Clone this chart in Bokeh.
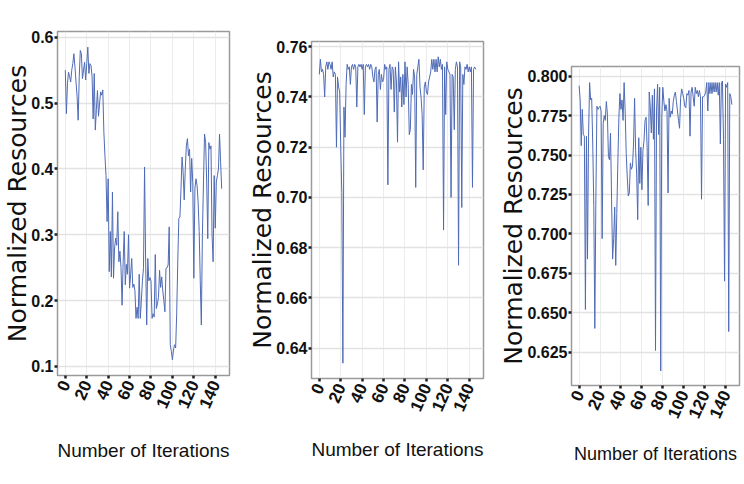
from bokeh.plotting import figure
from bokeh.models import Range1d, FixedTicker
from bokeh.layouts import row
from bokeh.embed import file_html
from bokeh.resources import INLINE

# ---------------- data ----------------
iterations = list(range(147))

res_a = [0.550, 0.484, 0.530, 0.547, 0.540, 0.532, 0.550, 0.560, 0.575, 0.555,
         0.532, 0.510, 0.474, 0.540, 0.580, 0.575, 0.537, 0.550, 0.562, 0.535,
         0.560, 0.585, 0.545, 0.560, 0.557, 0.540, 0.476, 0.545, 0.459, 0.490,
         0.519, 0.480, 0.500, 0.517, 0.512, 0.520, 0.456, 0.420, 0.390, 0.320,
         0.385, 0.244, 0.305, 0.236, 0.365, 0.234, 0.280, 0.295, 0.284, 0.335,
         0.259, 0.275, 0.250, 0.193, 0.259, 0.305, 0.224, 0.255, 0.240, 0.300,
         0.219, 0.240, 0.264, 0.220, 0.225, 0.215, 0.173, 0.190, 0.173, 0.240,
         0.173, 0.200, 0.230, 0.250, 0.403, 0.260, 0.163, 0.264, 0.230, 0.235,
         0.230, 0.173, 0.180, 0.175, 0.270, 0.188, 0.195, 0.205, 0.246, 0.220,
         0.236, 0.215, 0.200, 0.183, 0.249, 0.250, 0.254, 0.312, 0.133, 0.123,
         0.110, 0.125, 0.133, 0.128, 0.180, 0.260, 0.325, 0.327, 0.370, 0.418,
         0.395, 0.353, 0.400, 0.435, 0.446, 0.420, 0.430, 0.365, 0.416, 0.380,
         0.234, 0.370, 0.385, 0.375, 0.350, 0.305, 0.230, 0.163, 0.300, 0.380,
         0.453, 0.440, 0.380, 0.294, 0.440, 0.430, 0.435, 0.300, 0.259, 0.390,
         0.310, 0.380, 0.390, 0.400, 0.453, 0.410, 0.370]

res_b = [0.749, 0.755, 0.750, 0.751, 0.749, 0.740, 0.752, 0.754, 0.751, 0.754,
         0.753, 0.751, 0.754, 0.748, 0.750, 0.749, 0.720, 0.748, 0.744, 0.742,
         0.720, 0.702, 0.634, 0.736, 0.724, 0.745, 0.753, 0.751, 0.752, 0.745,
         0.752, 0.753, 0.751, 0.753, 0.752, 0.736, 0.752, 0.753, 0.752, 0.753,
         0.751, 0.753, 0.733, 0.752, 0.753, 0.752, 0.753, 0.751, 0.753, 0.752,
         0.748, 0.746, 0.751, 0.752, 0.730, 0.749, 0.751, 0.743, 0.749, 0.746,
         0.747, 0.753, 0.751, 0.752, 0.705, 0.751, 0.753, 0.743, 0.752, 0.751,
         0.734, 0.752, 0.746, 0.722, 0.754, 0.742, 0.748, 0.736, 0.749, 0.737,
         0.754, 0.740, 0.752, 0.745, 0.725, 0.727, 0.745, 0.741, 0.751, 0.748,
         0.704, 0.749, 0.752, 0.755, 0.744, 0.740, 0.733, 0.711, 0.744, 0.746,
         0.742, 0.741, 0.746, 0.748, 0.750, 0.755, 0.751, 0.755, 0.750, 0.755,
         0.750, 0.756, 0.752, 0.755, 0.751, 0.753, 0.687, 0.752, 0.733, 0.754,
         0.751, 0.750, 0.749, 0.700, 0.749, 0.748, 0.727, 0.751, 0.754, 0.752,
         0.673, 0.754, 0.752, 0.696, 0.749, 0.745, 0.752, 0.751, 0.753, 0.750,
         0.752, 0.750, 0.752, 0.704, 0.751, 0.752, 0.751]

res_c = [0.794, 0.785, 0.756, 0.779, 0.763, 0.762, 0.652, 0.762, 0.684, 0.762,
         0.796, 0.785, 0.786, 0.757, 0.718, 0.640, 0.722, 0.781, 0.779, 0.780,
         0.781, 0.778, 0.697, 0.770, 0.775, 0.772, 0.784, 0.776, 0.749, 0.747,
         0.764, 0.722, 0.684, 0.697, 0.717, 0.680, 0.713, 0.745, 0.774, 0.789,
         0.779, 0.785, 0.772, 0.796, 0.778, 0.751, 0.736, 0.724, 0.726, 0.745,
         0.741, 0.743, 0.757, 0.786, 0.753, 0.738, 0.709, 0.761, 0.732, 0.755,
         0.728, 0.753, 0.759, 0.772, 0.774, 0.755, 0.718, 0.790, 0.781, 0.764,
         0.788, 0.760, 0.792, 0.626, 0.778, 0.795, 0.763, 0.793, 0.613, 0.774,
         0.793, 0.784, 0.778, 0.782, 0.778, 0.726, 0.786, 0.774, 0.778, 0.776,
         0.784, 0.788, 0.790, 0.784, 0.778, 0.772, 0.767, 0.786, 0.792, 0.789,
         0.786, 0.781, 0.780, 0.789, 0.788, 0.791, 0.762, 0.790, 0.793, 0.787,
         0.781, 0.793, 0.789, 0.791, 0.787, 0.791, 0.787, 0.722, 0.787, 0.787,
         0.788, 0.790, 0.796, 0.778, 0.796, 0.789, 0.796, 0.789, 0.796, 0.790,
         0.796, 0.790, 0.796, 0.788, 0.796, 0.757, 0.796, 0.797, 0.760, 0.670,
         0.795, 0.793, 0.796, 0.638, 0.789, 0.787, 0.782]

x_ticks = [0, 20, 40, 60, 80, 100, 120, 140]
x_tick_labels = ["0", "20", "40", "60", "80", "100", "120", "140"]

y_ticks_a = [0.1, 0.2, 0.3, 0.4, 0.5, 0.6]
y_tick_labels_a = ["0.1", "0.2", "0.3", "0.4", "0.5", "0.6"]
y_ticks_b = [0.64, 0.66, 0.68, 0.70, 0.72, 0.74, 0.76]
y_tick_labels_b = ["0.64", "0.66", "0.68", "0.70", "0.72", "0.74", "0.76"]
y_ticks_c = [0.625, 0.650, 0.675, 0.700, 0.725, 0.750, 0.775, 0.800]
y_tick_labels_c = ["0.625", "0.650", "0.675", "0.700", "0.725", "0.750", "0.775", "0.800"]

x_label = "Number of Iterations"
y_label = "Normalized Resources"

# ---------------- styling ----------------
TICK_FONT = "Liberation Sans"
LINE_COLOR = "#4f6bb6"


def padded(vals, frac=0.05):
    lo, hi = min(vals), max(vals)
    pad = (hi - lo) * frac
    return Range1d(lo - pad, hi + pad)


def make_panel(values, yticks, ylabels, width, height, b_left, b_right, b_top, b_bottom,
               xlab_size, xlab_standoff):
    p = figure(width=width, height=height, output_backend="svg", toolbar_location=None,
               x_range=padded(iterations), y_range=padded(values),
               min_border_left=b_left, min_border_right=b_right,
               min_border_top=b_top, min_border_bottom=b_bottom,
               frame_align=False)
    p.line(iterations, values, line_color=LINE_COLOR, line_width=1)

    p.background_fill_color = "white"
    p.border_fill_color = "white"
    p.outline_line_color = "#9a9a9a"
    p.outline_line_width = 1.5

    p.xaxis.ticker = FixedTicker(ticks=x_ticks)
    p.xaxis.major_label_overrides = {t: l for t, l in zip(x_ticks, x_tick_labels)}
    p.yaxis.ticker = FixedTicker(ticks=yticks)
    p.yaxis.major_label_overrides = {t: l for t, l in zip(yticks, ylabels)}
    p.xgrid.ticker = FixedTicker(ticks=x_ticks)
    p.ygrid.ticker = FixedTicker(ticks=yticks)
    p.xgrid.grid_line_color = "#ececec"
    p.ygrid.grid_line_color = "#e2e2e2"
    p.ygrid.grid_line_width = 1.3

    for ax in (p.xaxis, p.yaxis):
        ax.axis_line_color = None
        ax.minor_tick_line_color = None
        ax.major_tick_in = 0
        ax.major_tick_out = 3
        ax.major_tick_line_width = 2.5
        ax.major_tick_line_color = "#222222"
        ax.major_label_text_font = TICK_FONT
        ax.major_label_text_font_style = "bold"
        ax.major_label_text_color = "#111111"
        ax.major_label_standoff = 1

    p.xaxis.major_label_text_font_size = "17px"
    p.yaxis.major_label_text_font_size = "16px"

    p.xaxis.major_label_orientation = 1.15
    p.xaxis.major_label_standoff = 3
    p.xaxis.axis_label = x_label
    p.xaxis.axis_label_text_font = "Liberation Sans"
    p.xaxis.axis_label_text_font_style = "normal"
    p.xaxis.axis_label_text_font_size = xlab_size
    p.xaxis.axis_label_text_color = "#111111"
    p.xaxis.axis_label_standoff = xlab_standoff

    p.yaxis.axis_label = y_label
    p.yaxis.axis_label_text_font = "DejaVu Sans"
    p.yaxis.axis_label_text_font_style = "normal"
    p.yaxis.axis_label_text_font_size = "25px"
    p.yaxis.axis_label_text_color = "#111111"
    p.yaxis.axis_label_standoff = -4
    return p


p1 = make_panel(res_a, y_ticks_a, y_tick_labels_a, 245, 484, 47, 16, 31, 109, "19px", 25)
p2 = make_panel(res_b, y_ticks_b, y_tick_labels_b, 245, 484, 60, 7, 41, 106, "19px", 21)
p3 = make_panel(res_c, y_ticks_c, y_tick_labels_c, 254, 484, 81, 5, 66, 99, "18px", 19)

layout = row(p1, p2, p3)

with open("out.html", "w") as f:
    f.write(file_html(layout, INLINE))
